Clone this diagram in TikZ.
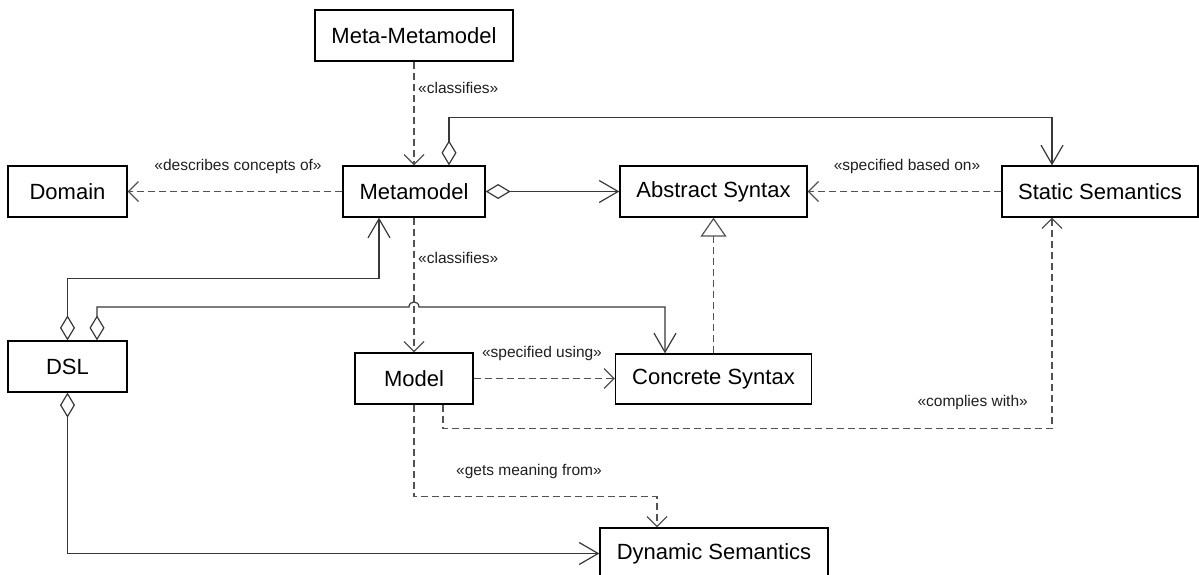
\documentclass[tikz,border=0pt]{standalone}
\usepackage{fontspec}
\setmainfont{Liberation Sans}
\usetikzlibrary{arrows.meta,calc}
\begin{document}
\begin{tikzpicture}[x=1pt,y=-1pt,
  box/.style={draw=black, line width=1.3pt, minimum height=51pt, inner sep=0pt,
    font=\fontsize{22}{26}\selectfont},
  lbl/.style={inner sep=0pt, font=\fontsize{15.5}{18}\selectfont, text=black!88},
  assoc/.style={draw=black!78, line width=1.2pt},
  dep/.style={draw=black!68, line width=1.2pt, dash pattern=on 7pt off 4pt},
  bigarr/.style={-{Straight Barb[length=19pt,width=22pt]}},
  smallarr/.style={-{Straight Barb[length=10pt,width=20pt]}},
  aggarr/.style={{Diamond[open,length=25pt,width=15pt]}-{Straight Barb[length=19pt,width=22pt]}},
  genarr/.style={-{Triangle[open,length=19pt,width=26pt]}}
]
\useasboundingbox (0,0) rectangle (1199,575);
\clip (0,0) rectangle (1199,575);

% classes
\node[box, minimum width=198pt] (mm)    at (414,35.5)   {Meta-Metamodel};
\node[box, minimum width=142pt] (meta)  at (414,191.5)  {Metamodel};
\node[box, minimum width=119pt] (dom)   at (67.5,191.5) {Domain};
\node[box, minimum width=187pt] (abs)   at (713.5,191.5){Abstract Syntax};
\node[box, minimum width=196pt] (stat)  at (1100,191.5) {Static Semantics};
\node[box, minimum width=119pt] (dsl)   at (67.5,366.5) {DSL};
\node[box, minimum width=118pt] (model) at (414,378.5)  {Model};
\node[box, minimum width=196pt, minimum height=50pt] (conc) at (713.5,379) {Concrete Syntax};
\node[box, minimum width=228pt] (dyn)   at (714,553.5)  {Dynamic Semantics};

% points of the line hop over the classifies dependency
\coordinate (hopL) at (409,307);
\coordinate (hopR) at (419,307);

% dependencies
\draw[dep, smallarr] (mm.south) -- (meta.north);
\draw[dep, smallarr] (meta.west) -- (dom.east);
\draw[dep, smallarr] (stat.west) -- (abs.east);
\draw[dep, smallarr] (meta.south) -- (model.north);
\draw[dep, smallarr] (model.east) -- (model.east -| conc.west);
\draw[dep, genarr] (conc.north) -- (abs.south);
\draw[dep, smallarr] ([xshift=29pt]model.south) -- ++(0,24) -| ([xshift=-48pt]stat.south);
\draw[dep, smallarr] (model.south) -- ++(0,92) -| ([xshift=-57pt]dyn.north);

% aggregations
\draw[assoc, aggarr] (meta.east) -- (abs.west);
\draw[assoc, aggarr] ([xshift=35pt]meta.north) -- ++(0,-48) -| ([xshift=-48pt]stat.north);
\draw[assoc, aggarr] (dsl.north) -- ++(0,-62) -| ([xshift=-35pt]meta.south);
\draw[assoc, aggarr] ([xshift=29.5pt]dsl.north) |- (hopL)
  .. controls +(0,-6.67) and +(0,-6.67) .. (hopR) -| ([xshift=-48.5pt]conc.north);
\draw[assoc, aggarr] (dsl.south) |- (dyn.west);

% stereotype labels
\node[lbl, anchor=west] (l1) at (418,88)  {«classifies»};
\node[lbl] (l2) at (238,166) {«describes concepts of»};
\node[lbl] (l3) at (907,166) {«specified based on»};
\node[lbl, anchor=west] (l4) at (418,258) {«classifies»};
\node[lbl] (l5) at (542,353) {«specified using»};
\node[lbl, anchor=east] (l6) at (1028,402) {«complies with»};
\node[lbl] (l7) at (529,471) {«gets meaning from»};
\end{tikzpicture}
\end{document}
